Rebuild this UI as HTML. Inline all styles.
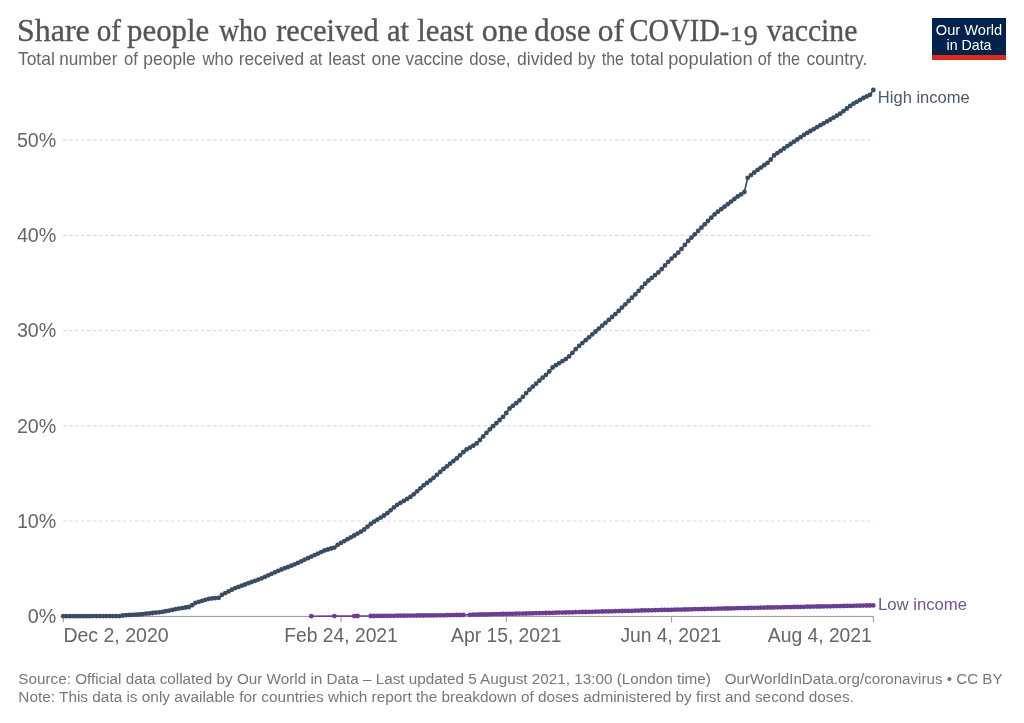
<!DOCTYPE html>
<html lang="en"><head><meta charset="utf-8"><title>Share of people who received at least one dose of COVID-19 vaccine</title>
<style>
html,body{margin:0;padding:0;background:#fff;}
body{width:1024px;height:723px;overflow:hidden;}
svg{display:block;font-family:"Liberation Sans",Arial,Helvetica,sans-serif;}
.title{font-family:"Liberation Serif",Georgia,serif;font-size:30.7px;fill:#555;stroke:#555;stroke-width:0.35px;}
.sub{font-size:17.9px;fill:#666;}
.axis text{font-size:19.3px;fill:#666;}
.axis text.y{font-size:19.7px;}
.foot{font-size:15.2px;fill:#777;}
.lbl{font-size:16.2px;}
.logo text{font-size:14.2px;fill:#fff;text-anchor:middle;}
</style></head>
<body>
<svg width="1024" height="723" viewBox="0 0 1024 723">
<rect width="1024" height="723" fill="#fff"/>
<text class="title"><tspan x="16.92" y="40.7" textLength="72.83" lengthAdjust="spacingAndGlyphs">Share</tspan> <tspan x="96.65" y="40.7" textLength="24.31" lengthAdjust="spacingAndGlyphs">of</tspan> <tspan x="127.10" y="40.7" textLength="82.22" lengthAdjust="spacingAndGlyphs">people</tspan> <tspan x="218.90" y="40.7" textLength="48.01" lengthAdjust="spacingAndGlyphs">who</tspan> <tspan x="276.30" y="40.7" textLength="102.34" lengthAdjust="spacingAndGlyphs">received</tspan> <tspan x="387.00" y="40.7" textLength="22.13" lengthAdjust="spacingAndGlyphs">at</tspan> <tspan x="417.20" y="40.7" textLength="56.42" lengthAdjust="spacingAndGlyphs">least</tspan> <tspan x="481.66" y="40.7" textLength="46.19" lengthAdjust="spacingAndGlyphs">one</tspan> <tspan x="534.30" y="40.7" textLength="56.22" lengthAdjust="spacingAndGlyphs">dose</tspan> <tspan x="597.78" y="40.7" textLength="26.12" lengthAdjust="spacingAndGlyphs">of</tspan> <tspan x="629.57" y="40.7" textLength="99.73" lengthAdjust="spacingAndGlyphs">COVID-</tspan><tspan x="730.31" y="40.7" font-size="22" textLength="11.98" lengthAdjust="spacingAndGlyphs">1</tspan><tspan x="743.80" y="45.1" font-size="29.6" textLength="13.95" lengthAdjust="spacingAndGlyphs">9</tspan> <tspan x="766.70" y="40.7" textLength="90.70" lengthAdjust="spacingAndGlyphs">vaccine</tspan></text>
<text class="sub"><tspan x="17.90" y="64.7" textLength="36.95" lengthAdjust="spacingAndGlyphs">Total</tspan> <tspan x="59.24" y="64.7" textLength="58.12" lengthAdjust="spacingAndGlyphs">number</tspan> <tspan x="123.90" y="64.7" textLength="13.87" lengthAdjust="spacingAndGlyphs">of</tspan> <tspan x="143.32" y="64.7" textLength="52.43" lengthAdjust="spacingAndGlyphs">people</tspan> <tspan x="202.54" y="64.7" textLength="30.72" lengthAdjust="spacingAndGlyphs">who</tspan> <tspan x="238.73" y="64.7" textLength="65.28" lengthAdjust="spacingAndGlyphs">received</tspan> <tspan x="309.60" y="64.7" textLength="12.77" lengthAdjust="spacingAndGlyphs">at</tspan> <tspan x="328.33" y="64.7" textLength="36.64" lengthAdjust="spacingAndGlyphs">least</tspan> <tspan x="371.40" y="64.7" textLength="29.45" lengthAdjust="spacingAndGlyphs">one</tspan> <tspan x="405.40" y="64.7" textLength="57.95" lengthAdjust="spacingAndGlyphs">vaccine</tspan> <tspan x="469.20" y="64.7" textLength="41.32" lengthAdjust="spacingAndGlyphs">dose,</tspan> <tspan x="517.10" y="64.7" textLength="55.73" lengthAdjust="spacingAndGlyphs">divided</tspan> <tspan x="577.76" y="64.7" textLength="17.68" lengthAdjust="spacingAndGlyphs">by</tspan> <tspan x="601.70" y="64.7" textLength="22.26" lengthAdjust="spacingAndGlyphs">the</tspan> <tspan x="630.50" y="64.7" textLength="33.16" lengthAdjust="spacingAndGlyphs">total</tspan> <tspan x="668.18" y="64.7" textLength="84.39" lengthAdjust="spacingAndGlyphs">population</tspan> <tspan x="757.70" y="64.7" textLength="13.67" lengthAdjust="spacingAndGlyphs">of</tspan> <tspan x="777.50" y="64.7" textLength="22.65" lengthAdjust="spacingAndGlyphs">the</tspan> <tspan x="806.40" y="64.7" textLength="60.95" lengthAdjust="spacingAndGlyphs">country.</tspan></text>
<g class="logo">
<rect x="932" y="18" width="74" height="42" fill="#00224b"/>
<rect x="932" y="55" width="74" height="5" fill="#dc2a1b"/>
<text x="969" y="34.5" textLength="66.4" lengthAdjust="spacingAndGlyphs">Our World</text>
<text x="969" y="50">in Data</text>
</g>
<g class="grid">
<line x1="63" x2="873.5" y1="521.0" y2="521.0" stroke="#ddd" stroke-width="1.2" stroke-dasharray="3.6,2.4"/>
<line x1="63" x2="873.5" y1="425.8" y2="425.8" stroke="#ddd" stroke-width="1.2" stroke-dasharray="3.6,2.4"/>
<line x1="63" x2="873.5" y1="330.6" y2="330.6" stroke="#ddd" stroke-width="1.2" stroke-dasharray="3.6,2.4"/>
<line x1="63" x2="873.5" y1="235.3" y2="235.3" stroke="#ddd" stroke-width="1.2" stroke-dasharray="3.6,2.4"/>
<line x1="63" x2="873.5" y1="140.1" y2="140.1" stroke="#ddd" stroke-width="1.2" stroke-dasharray="3.6,2.4"/>
</g>
<line x1="63" x2="873.8" y1="616.4" y2="616.4" stroke="#999" stroke-width="1"/>
<line x1="63.3" x2="63.3" y1="616.2" y2="622.3" stroke="#999" stroke-width="1"/>
<line x1="341.0" x2="341.0" y1="616.2" y2="622.3" stroke="#999" stroke-width="1"/>
<line x1="506.3" x2="506.3" y1="616.2" y2="622.3" stroke="#999" stroke-width="1"/>
<line x1="671.6" x2="671.6" y1="616.2" y2="622.3" stroke="#999" stroke-width="1"/>
<line x1="873.3" x2="873.3" y1="616.2" y2="622.3" stroke="#999" stroke-width="1"/>

<g class="axis">
<text class="y" x="56.3" y="623.0" text-anchor="end">0%</text>
<text class="y" x="56.3" y="527.8" text-anchor="end">10%</text>
<text class="y" x="56.3" y="432.6" text-anchor="end">20%</text>
<text class="y" x="56.3" y="337.4" text-anchor="end">30%</text>
<text class="y" x="56.3" y="242.1" text-anchor="end">40%</text>
<text class="y" x="56.3" y="146.9" text-anchor="end">50%</text>
<text x="63.4" y="641.6" textLength="105.2" lengthAdjust="spacingAndGlyphs">Dec 2, 2020</text>
<text x="341.0" y="641.6" text-anchor="middle">Feb 24, 2021</text>
<text x="506.3" y="641.6" text-anchor="middle">Apr 15, 2021</text>
<text x="670.8" y="641.6" text-anchor="middle">Jun 4, 2021</text>
<text x="871.8" y="641.6" text-anchor="end">Aug 4, 2021</text>
</g>
<path d="M311.3,616.2 L334.4,616.1 L354.2,616.1 L357.5,616.0 L370.8,616.0 L374.1,616.0 L377.4,615.9 L380.7,615.9 L384.0,615.9 L387.3,615.8 L390.6,615.8 L393.9,615.8 L397.2,615.7 L400.5,615.7 L403.8,615.7 L407.1,615.6 L410.4,615.6 L413.7,615.6 L417.1,615.5 L420.4,615.5 L423.7,615.5 L427.0,615.4 L430.3,615.4 L433.6,615.4 L436.9,615.3 L440.2,615.3 L443.5,615.3 L446.8,615.2 L450.1,615.2 L453.4,615.1 L456.7,615.0 L460.0,615.0 L463.3,614.9 L470.0,614.8 L473.3,614.7 L476.6,614.6 L479.9,614.5 L483.2,614.5 L486.5,614.4 L489.8,614.3 L493.1,614.2 L496.4,614.2 L499.7,614.1 L503.0,614.0 L506.3,613.9 L509.6,613.9 L512.9,613.8 L516.2,613.7 L519.5,613.6 L522.9,613.6 L526.2,613.5 L529.5,613.4 L532.8,613.3 L536.1,613.2 L539.4,613.2 L542.7,613.1 L546.0,613.0 L549.3,612.9 L552.6,612.8 L555.9,612.7 L559.2,612.6 L562.5,612.6 L565.8,612.5 L569.1,612.4 L572.4,612.3 L575.7,612.2 L579.1,612.1 L582.4,612.0 L585.7,612.0 L589.0,611.9 L592.3,611.8 L595.6,611.7 L598.9,611.6 L602.2,611.5 L605.5,611.4 L608.8,611.4 L612.1,611.3 L615.4,611.2 L618.7,611.1 L622.0,611.0 L625.3,610.9 L628.6,610.9 L632.0,610.8 L635.3,610.7 L638.6,610.6 L641.9,610.5 L645.2,610.4 L648.5,610.3 L651.8,610.3 L655.1,610.2 L658.4,610.1 L661.7,610.0 L665.0,609.9 L668.3,609.9 L671.6,609.8 L674.9,609.7 L678.2,609.6 L681.5,609.6 L684.9,609.5 L688.2,609.4 L691.5,609.3 L694.8,609.2 L698.1,609.2 L701.4,609.1 L704.7,609.0 L708.0,608.9 L711.3,608.9 L714.6,608.8 L717.9,608.7 L721.2,608.6 L724.5,608.5 L727.8,608.5 L731.1,608.4 L734.4,608.3 L737.7,608.2 L741.1,608.1 L744.4,608.1 L747.7,608.0 L751.0,607.9 L754.3,607.8 L757.6,607.8 L760.9,607.7 L764.2,607.6 L767.5,607.5 L770.8,607.5 L774.1,607.4 L777.4,607.3 L780.7,607.3 L784.0,607.2 L787.3,607.1 L790.6,607.1 L794.0,607.0 L797.3,606.9 L800.6,606.9 L803.9,606.8 L807.2,606.7 L810.5,606.7 L813.8,606.6 L817.1,606.5 L820.4,606.5 L823.7,606.4 L827.0,606.3 L830.3,606.3 L833.6,606.2 L836.9,606.1 L840.2,606.1 L843.5,606.0 L846.9,605.9 L850.2,605.9 L853.5,605.8 L856.8,605.7 L860.1,605.7 L863.4,605.6 L866.7,605.5 L870.0,605.5 L873.3,605.4" fill="none" stroke="#6b3d91" stroke-width="1.6" stroke-linejoin="round"/>
<g fill="#6b3d91"><circle cx="311.3" cy="616.2" r="2.4"/><circle cx="334.4" cy="616.1" r="2.4"/><circle cx="354.2" cy="616.1" r="2.4"/><circle cx="357.5" cy="616.0" r="2.4"/><circle cx="370.8" cy="616.0" r="2.4"/><circle cx="374.1" cy="616.0" r="2.4"/><circle cx="377.4" cy="615.9" r="2.4"/><circle cx="380.7" cy="615.9" r="2.4"/><circle cx="384.0" cy="615.9" r="2.4"/><circle cx="387.3" cy="615.8" r="2.4"/><circle cx="390.6" cy="615.8" r="2.4"/><circle cx="393.9" cy="615.8" r="2.4"/><circle cx="397.2" cy="615.7" r="2.4"/><circle cx="400.5" cy="615.7" r="2.4"/><circle cx="403.8" cy="615.7" r="2.4"/><circle cx="407.1" cy="615.6" r="2.4"/><circle cx="410.4" cy="615.6" r="2.4"/><circle cx="413.7" cy="615.6" r="2.4"/><circle cx="417.1" cy="615.5" r="2.4"/><circle cx="420.4" cy="615.5" r="2.4"/><circle cx="423.7" cy="615.5" r="2.4"/><circle cx="427.0" cy="615.4" r="2.4"/><circle cx="430.3" cy="615.4" r="2.4"/><circle cx="433.6" cy="615.4" r="2.4"/><circle cx="436.9" cy="615.3" r="2.4"/><circle cx="440.2" cy="615.3" r="2.4"/><circle cx="443.5" cy="615.3" r="2.4"/><circle cx="446.8" cy="615.2" r="2.4"/><circle cx="450.1" cy="615.2" r="2.4"/><circle cx="453.4" cy="615.1" r="2.4"/><circle cx="456.7" cy="615.0" r="2.4"/><circle cx="460.0" cy="615.0" r="2.4"/><circle cx="463.3" cy="614.9" r="2.4"/><circle cx="470.0" cy="614.8" r="2.4"/><circle cx="473.3" cy="614.7" r="2.4"/><circle cx="476.6" cy="614.6" r="2.4"/><circle cx="479.9" cy="614.5" r="2.4"/><circle cx="483.2" cy="614.5" r="2.4"/><circle cx="486.5" cy="614.4" r="2.4"/><circle cx="489.8" cy="614.3" r="2.4"/><circle cx="493.1" cy="614.2" r="2.4"/><circle cx="496.4" cy="614.2" r="2.4"/><circle cx="499.7" cy="614.1" r="2.4"/><circle cx="503.0" cy="614.0" r="2.4"/><circle cx="506.3" cy="613.9" r="2.4"/><circle cx="509.6" cy="613.9" r="2.4"/><circle cx="512.9" cy="613.8" r="2.4"/><circle cx="516.2" cy="613.7" r="2.4"/><circle cx="519.5" cy="613.6" r="2.4"/><circle cx="522.9" cy="613.6" r="2.4"/><circle cx="526.2" cy="613.5" r="2.4"/><circle cx="529.5" cy="613.4" r="2.4"/><circle cx="532.8" cy="613.3" r="2.4"/><circle cx="536.1" cy="613.2" r="2.4"/><circle cx="539.4" cy="613.2" r="2.4"/><circle cx="542.7" cy="613.1" r="2.4"/><circle cx="546.0" cy="613.0" r="2.4"/><circle cx="549.3" cy="612.9" r="2.4"/><circle cx="552.6" cy="612.8" r="2.4"/><circle cx="555.9" cy="612.7" r="2.4"/><circle cx="559.2" cy="612.6" r="2.4"/><circle cx="562.5" cy="612.6" r="2.4"/><circle cx="565.8" cy="612.5" r="2.4"/><circle cx="569.1" cy="612.4" r="2.4"/><circle cx="572.4" cy="612.3" r="2.4"/><circle cx="575.7" cy="612.2" r="2.4"/><circle cx="579.1" cy="612.1" r="2.4"/><circle cx="582.4" cy="612.0" r="2.4"/><circle cx="585.7" cy="612.0" r="2.4"/><circle cx="589.0" cy="611.9" r="2.4"/><circle cx="592.3" cy="611.8" r="2.4"/><circle cx="595.6" cy="611.7" r="2.4"/><circle cx="598.9" cy="611.6" r="2.4"/><circle cx="602.2" cy="611.5" r="2.4"/><circle cx="605.5" cy="611.4" r="2.4"/><circle cx="608.8" cy="611.4" r="2.4"/><circle cx="612.1" cy="611.3" r="2.4"/><circle cx="615.4" cy="611.2" r="2.4"/><circle cx="618.7" cy="611.1" r="2.4"/><circle cx="622.0" cy="611.0" r="2.4"/><circle cx="625.3" cy="610.9" r="2.4"/><circle cx="628.6" cy="610.9" r="2.4"/><circle cx="632.0" cy="610.8" r="2.4"/><circle cx="635.3" cy="610.7" r="2.4"/><circle cx="638.6" cy="610.6" r="2.4"/><circle cx="641.9" cy="610.5" r="2.4"/><circle cx="645.2" cy="610.4" r="2.4"/><circle cx="648.5" cy="610.3" r="2.4"/><circle cx="651.8" cy="610.3" r="2.4"/><circle cx="655.1" cy="610.2" r="2.4"/><circle cx="658.4" cy="610.1" r="2.4"/><circle cx="661.7" cy="610.0" r="2.4"/><circle cx="665.0" cy="609.9" r="2.4"/><circle cx="668.3" cy="609.9" r="2.4"/><circle cx="671.6" cy="609.8" r="2.4"/><circle cx="674.9" cy="609.7" r="2.4"/><circle cx="678.2" cy="609.6" r="2.4"/><circle cx="681.5" cy="609.6" r="2.4"/><circle cx="684.9" cy="609.5" r="2.4"/><circle cx="688.2" cy="609.4" r="2.4"/><circle cx="691.5" cy="609.3" r="2.4"/><circle cx="694.8" cy="609.2" r="2.4"/><circle cx="698.1" cy="609.2" r="2.4"/><circle cx="701.4" cy="609.1" r="2.4"/><circle cx="704.7" cy="609.0" r="2.4"/><circle cx="708.0" cy="608.9" r="2.4"/><circle cx="711.3" cy="608.9" r="2.4"/><circle cx="714.6" cy="608.8" r="2.4"/><circle cx="717.9" cy="608.7" r="2.4"/><circle cx="721.2" cy="608.6" r="2.4"/><circle cx="724.5" cy="608.5" r="2.4"/><circle cx="727.8" cy="608.5" r="2.4"/><circle cx="731.1" cy="608.4" r="2.4"/><circle cx="734.4" cy="608.3" r="2.4"/><circle cx="737.7" cy="608.2" r="2.4"/><circle cx="741.1" cy="608.1" r="2.4"/><circle cx="744.4" cy="608.1" r="2.4"/><circle cx="747.7" cy="608.0" r="2.4"/><circle cx="751.0" cy="607.9" r="2.4"/><circle cx="754.3" cy="607.8" r="2.4"/><circle cx="757.6" cy="607.8" r="2.4"/><circle cx="760.9" cy="607.7" r="2.4"/><circle cx="764.2" cy="607.6" r="2.4"/><circle cx="767.5" cy="607.5" r="2.4"/><circle cx="770.8" cy="607.5" r="2.4"/><circle cx="774.1" cy="607.4" r="2.4"/><circle cx="777.4" cy="607.3" r="2.4"/><circle cx="780.7" cy="607.3" r="2.4"/><circle cx="784.0" cy="607.2" r="2.4"/><circle cx="787.3" cy="607.1" r="2.4"/><circle cx="790.6" cy="607.1" r="2.4"/><circle cx="794.0" cy="607.0" r="2.4"/><circle cx="797.3" cy="606.9" r="2.4"/><circle cx="800.6" cy="606.9" r="2.4"/><circle cx="803.9" cy="606.8" r="2.4"/><circle cx="807.2" cy="606.7" r="2.4"/><circle cx="810.5" cy="606.7" r="2.4"/><circle cx="813.8" cy="606.6" r="2.4"/><circle cx="817.1" cy="606.5" r="2.4"/><circle cx="820.4" cy="606.5" r="2.4"/><circle cx="823.7" cy="606.4" r="2.4"/><circle cx="827.0" cy="606.3" r="2.4"/><circle cx="830.3" cy="606.3" r="2.4"/><circle cx="833.6" cy="606.2" r="2.4"/><circle cx="836.9" cy="606.1" r="2.4"/><circle cx="840.2" cy="606.1" r="2.4"/><circle cx="843.5" cy="606.0" r="2.4"/><circle cx="846.9" cy="605.9" r="2.4"/><circle cx="850.2" cy="605.9" r="2.4"/><circle cx="853.5" cy="605.8" r="2.4"/><circle cx="856.8" cy="605.7" r="2.4"/><circle cx="860.1" cy="605.7" r="2.4"/><circle cx="863.4" cy="605.6" r="2.4"/><circle cx="866.7" cy="605.5" r="2.4"/><circle cx="870.0" cy="605.5" r="2.4"/><circle cx="873.3" cy="605.4" r="2.4"/></g>

<path d="M63.3,616.2 L66.6,616.2 L69.9,616.2 L73.2,616.2 L76.5,616.2 L79.8,616.2 L83.1,616.2 L86.4,616.2 L89.7,616.2 L93.1,616.1 L96.4,616.1 L99.7,616.1 L103.0,616.1 L106.3,616.1 L109.6,616.1 L112.9,616.1 L116.2,616.1 L119.5,616.1 L122.8,615.5 L126.1,615.2 L129.4,615.0 L132.7,614.8 L136.0,614.7 L139.3,614.5 L142.6,614.1 L146.0,613.7 L149.3,613.4 L152.6,613.0 L155.9,612.6 L159.2,612.3 L162.5,611.9 L165.8,611.2 L169.1,610.6 L172.4,609.9 L175.7,609.2 L179.0,608.6 L182.3,608.1 L185.6,607.5 L188.9,607.0 L192.2,605.2 L195.5,602.8 L198.9,601.8 L202.2,600.8 L205.5,599.8 L208.8,598.8 L212.1,598.4 L215.4,598.1 L218.7,597.8 L222.0,594.8 L225.3,593.1 L228.6,591.4 L231.9,589.7 L235.2,588.1 L238.5,586.9 L241.8,585.7 L245.1,584.5 L248.4,583.2 L251.7,582.0 L255.1,580.8 L258.4,579.6 L261.7,578.3 L265.0,576.8 L268.3,575.3 L271.6,573.8 L274.9,572.3 L278.2,570.8 L281.5,569.5 L284.8,568.2 L288.1,567.0 L291.4,565.7 L294.7,564.3 L298.0,562.8 L301.3,561.3 L304.6,559.7 L308.0,558.2 L311.3,556.6 L314.6,555.1 L317.9,553.6 L321.2,552.1 L324.5,550.5 L327.8,549.5 L331.1,548.5 L334.4,547.6 L337.7,544.8 L341.0,542.9 L344.3,541.1 L347.6,539.2 L350.9,537.3 L354.2,535.5 L357.5,533.6 L360.9,531.7 L364.2,529.5 L367.5,526.7 L370.8,523.9 L374.1,521.7 L377.4,519.6 L380.7,517.6 L384.0,515.5 L387.3,513.2 L390.6,510.3 L393.9,507.4 L397.2,504.8 L400.5,502.8 L403.8,500.9 L407.1,498.9 L410.4,496.9 L413.7,494.3 L417.1,491.3 L420.4,488.3 L423.7,485.3 L427.0,482.9 L430.3,480.4 L433.6,477.8 L436.9,474.8 L440.2,471.9 L443.5,469.0 L446.8,466.4 L450.1,463.7 L453.4,461.1 L456.7,458.4 L460.0,455.3 L463.3,452.2 L466.6,449.4 L470.0,447.6 L473.3,445.7 L476.6,443.4 L479.9,440.0 L483.2,436.4 L486.5,432.8 L489.8,429.3 L493.1,426.2 L496.4,423.1 L499.7,420.0 L503.0,416.9 L506.3,413.0 L509.6,408.5 L512.9,405.8 L516.2,403.2 L519.5,400.4 L522.9,396.8 L526.2,393.1 L529.5,389.6 L532.8,386.6 L536.1,383.7 L539.4,380.7 L542.7,377.7 L546.0,374.8 L549.3,371.5 L552.6,367.5 L555.9,365.2 L559.2,363.1 L562.5,361.1 L565.8,359.1 L569.1,356.4 L572.4,352.8 L575.7,349.2 L579.1,345.9 L582.4,343.1 L585.7,340.2 L589.0,337.3 L592.3,334.4 L595.6,331.5 L598.9,328.6 L602.2,325.7 L605.5,322.8 L608.8,319.9 L612.1,317.0 L615.4,314.1 L618.7,310.9 L622.0,307.6 L625.3,304.3 L628.6,301.0 L632.0,297.7 L635.3,294.4 L638.6,290.9 L641.9,287.3 L645.2,283.7 L648.5,280.5 L651.8,277.8 L655.1,275.1 L658.4,272.4 L661.7,269.1 L665.0,265.4 L668.3,261.8 L671.6,258.6 L674.9,255.7 L678.2,252.7 L681.5,248.9 L684.9,244.9 L688.2,240.9 L691.5,237.6 L694.8,234.3 L698.1,231.0 L701.4,227.7 L704.7,224.3 L708.0,221.0 L711.3,217.7 L714.6,214.4 L717.9,211.7 L721.2,209.2 L724.5,206.7 L727.8,204.2 L731.1,201.6 L734.4,199.0 L737.7,196.5 L741.1,194.4 L744.4,192.0 L747.7,177.8 L751.0,175.1 L754.3,172.5 L757.6,169.9 L760.9,167.6 L764.2,165.2 L767.5,162.9 L770.8,159.5 L774.1,155.4 L777.4,153.1 L780.7,150.8 L784.0,148.5 L787.3,146.2 L790.6,144.0 L794.0,141.7 L797.3,139.5 L800.6,137.2 L803.9,134.9 L807.2,132.9 L810.5,131.0 L813.8,129.1 L817.1,127.1 L820.4,125.2 L823.7,123.3 L827.0,121.4 L830.3,119.5 L833.6,117.6 L836.9,115.7 L840.2,113.7 L843.5,111.1 L846.9,108.5 L850.2,105.9 L853.5,103.7 L856.8,101.8 L860.1,99.9 L863.4,98.0 L866.7,96.4 L870.0,94.8 L873.3,90.0" fill="none" stroke="#3a4c61" stroke-width="1.6" stroke-linejoin="round"/>
<g fill="#3a4c61"><circle cx="63.3" cy="616.2" r="2.4"/><circle cx="66.6" cy="616.2" r="2.4"/><circle cx="69.9" cy="616.2" r="2.4"/><circle cx="73.2" cy="616.2" r="2.4"/><circle cx="76.5" cy="616.2" r="2.4"/><circle cx="79.8" cy="616.2" r="2.4"/><circle cx="83.1" cy="616.2" r="2.4"/><circle cx="86.4" cy="616.2" r="2.4"/><circle cx="89.7" cy="616.2" r="2.4"/><circle cx="93.1" cy="616.1" r="2.4"/><circle cx="96.4" cy="616.1" r="2.4"/><circle cx="99.7" cy="616.1" r="2.4"/><circle cx="103.0" cy="616.1" r="2.4"/><circle cx="106.3" cy="616.1" r="2.4"/><circle cx="109.6" cy="616.1" r="2.4"/><circle cx="112.9" cy="616.1" r="2.4"/><circle cx="116.2" cy="616.1" r="2.4"/><circle cx="119.5" cy="616.1" r="2.4"/><circle cx="122.8" cy="615.5" r="2.4"/><circle cx="126.1" cy="615.2" r="2.4"/><circle cx="129.4" cy="615.0" r="2.4"/><circle cx="132.7" cy="614.8" r="2.4"/><circle cx="136.0" cy="614.7" r="2.4"/><circle cx="139.3" cy="614.5" r="2.4"/><circle cx="142.6" cy="614.1" r="2.4"/><circle cx="146.0" cy="613.7" r="2.4"/><circle cx="149.3" cy="613.4" r="2.4"/><circle cx="152.6" cy="613.0" r="2.4"/><circle cx="155.9" cy="612.6" r="2.4"/><circle cx="159.2" cy="612.3" r="2.4"/><circle cx="162.5" cy="611.9" r="2.4"/><circle cx="165.8" cy="611.2" r="2.4"/><circle cx="169.1" cy="610.6" r="2.4"/><circle cx="172.4" cy="609.9" r="2.4"/><circle cx="175.7" cy="609.2" r="2.4"/><circle cx="179.0" cy="608.6" r="2.4"/><circle cx="182.3" cy="608.1" r="2.4"/><circle cx="185.6" cy="607.5" r="2.4"/><circle cx="188.9" cy="607.0" r="2.4"/><circle cx="192.2" cy="605.2" r="2.4"/><circle cx="195.5" cy="602.8" r="2.4"/><circle cx="198.9" cy="601.8" r="2.4"/><circle cx="202.2" cy="600.8" r="2.4"/><circle cx="205.5" cy="599.8" r="2.4"/><circle cx="208.8" cy="598.8" r="2.4"/><circle cx="212.1" cy="598.4" r="2.4"/><circle cx="215.4" cy="598.1" r="2.4"/><circle cx="218.7" cy="597.8" r="2.4"/><circle cx="222.0" cy="594.8" r="2.4"/><circle cx="225.3" cy="593.1" r="2.4"/><circle cx="228.6" cy="591.4" r="2.4"/><circle cx="231.9" cy="589.7" r="2.4"/><circle cx="235.2" cy="588.1" r="2.4"/><circle cx="238.5" cy="586.9" r="2.4"/><circle cx="241.8" cy="585.7" r="2.4"/><circle cx="245.1" cy="584.5" r="2.4"/><circle cx="248.4" cy="583.2" r="2.4"/><circle cx="251.7" cy="582.0" r="2.4"/><circle cx="255.1" cy="580.8" r="2.4"/><circle cx="258.4" cy="579.6" r="2.4"/><circle cx="261.7" cy="578.3" r="2.4"/><circle cx="265.0" cy="576.8" r="2.4"/><circle cx="268.3" cy="575.3" r="2.4"/><circle cx="271.6" cy="573.8" r="2.4"/><circle cx="274.9" cy="572.3" r="2.4"/><circle cx="278.2" cy="570.8" r="2.4"/><circle cx="281.5" cy="569.5" r="2.4"/><circle cx="284.8" cy="568.2" r="2.4"/><circle cx="288.1" cy="567.0" r="2.4"/><circle cx="291.4" cy="565.7" r="2.4"/><circle cx="294.7" cy="564.3" r="2.4"/><circle cx="298.0" cy="562.8" r="2.4"/><circle cx="301.3" cy="561.3" r="2.4"/><circle cx="304.6" cy="559.7" r="2.4"/><circle cx="308.0" cy="558.2" r="2.4"/><circle cx="311.3" cy="556.6" r="2.4"/><circle cx="314.6" cy="555.1" r="2.4"/><circle cx="317.9" cy="553.6" r="2.4"/><circle cx="321.2" cy="552.1" r="2.4"/><circle cx="324.5" cy="550.5" r="2.4"/><circle cx="327.8" cy="549.5" r="2.4"/><circle cx="331.1" cy="548.5" r="2.4"/><circle cx="334.4" cy="547.6" r="2.4"/><circle cx="337.7" cy="544.8" r="2.4"/><circle cx="341.0" cy="542.9" r="2.4"/><circle cx="344.3" cy="541.1" r="2.4"/><circle cx="347.6" cy="539.2" r="2.4"/><circle cx="350.9" cy="537.3" r="2.4"/><circle cx="354.2" cy="535.5" r="2.4"/><circle cx="357.5" cy="533.6" r="2.4"/><circle cx="360.9" cy="531.7" r="2.4"/><circle cx="364.2" cy="529.5" r="2.4"/><circle cx="367.5" cy="526.7" r="2.4"/><circle cx="370.8" cy="523.9" r="2.4"/><circle cx="374.1" cy="521.7" r="2.4"/><circle cx="377.4" cy="519.6" r="2.4"/><circle cx="380.7" cy="517.6" r="2.4"/><circle cx="384.0" cy="515.5" r="2.4"/><circle cx="387.3" cy="513.2" r="2.4"/><circle cx="390.6" cy="510.3" r="2.4"/><circle cx="393.9" cy="507.4" r="2.4"/><circle cx="397.2" cy="504.8" r="2.4"/><circle cx="400.5" cy="502.8" r="2.4"/><circle cx="403.8" cy="500.9" r="2.4"/><circle cx="407.1" cy="498.9" r="2.4"/><circle cx="410.4" cy="496.9" r="2.4"/><circle cx="413.7" cy="494.3" r="2.4"/><circle cx="417.1" cy="491.3" r="2.4"/><circle cx="420.4" cy="488.3" r="2.4"/><circle cx="423.7" cy="485.3" r="2.4"/><circle cx="427.0" cy="482.9" r="2.4"/><circle cx="430.3" cy="480.4" r="2.4"/><circle cx="433.6" cy="477.8" r="2.4"/><circle cx="436.9" cy="474.8" r="2.4"/><circle cx="440.2" cy="471.9" r="2.4"/><circle cx="443.5" cy="469.0" r="2.4"/><circle cx="446.8" cy="466.4" r="2.4"/><circle cx="450.1" cy="463.7" r="2.4"/><circle cx="453.4" cy="461.1" r="2.4"/><circle cx="456.7" cy="458.4" r="2.4"/><circle cx="460.0" cy="455.3" r="2.4"/><circle cx="463.3" cy="452.2" r="2.4"/><circle cx="466.6" cy="449.4" r="2.4"/><circle cx="470.0" cy="447.6" r="2.4"/><circle cx="473.3" cy="445.7" r="2.4"/><circle cx="476.6" cy="443.4" r="2.4"/><circle cx="479.9" cy="440.0" r="2.4"/><circle cx="483.2" cy="436.4" r="2.4"/><circle cx="486.5" cy="432.8" r="2.4"/><circle cx="489.8" cy="429.3" r="2.4"/><circle cx="493.1" cy="426.2" r="2.4"/><circle cx="496.4" cy="423.1" r="2.4"/><circle cx="499.7" cy="420.0" r="2.4"/><circle cx="503.0" cy="416.9" r="2.4"/><circle cx="506.3" cy="413.0" r="2.4"/><circle cx="509.6" cy="408.5" r="2.4"/><circle cx="512.9" cy="405.8" r="2.4"/><circle cx="516.2" cy="403.2" r="2.4"/><circle cx="519.5" cy="400.4" r="2.4"/><circle cx="522.9" cy="396.8" r="2.4"/><circle cx="526.2" cy="393.1" r="2.4"/><circle cx="529.5" cy="389.6" r="2.4"/><circle cx="532.8" cy="386.6" r="2.4"/><circle cx="536.1" cy="383.7" r="2.4"/><circle cx="539.4" cy="380.7" r="2.4"/><circle cx="542.7" cy="377.7" r="2.4"/><circle cx="546.0" cy="374.8" r="2.4"/><circle cx="549.3" cy="371.5" r="2.4"/><circle cx="552.6" cy="367.5" r="2.4"/><circle cx="555.9" cy="365.2" r="2.4"/><circle cx="559.2" cy="363.1" r="2.4"/><circle cx="562.5" cy="361.1" r="2.4"/><circle cx="565.8" cy="359.1" r="2.4"/><circle cx="569.1" cy="356.4" r="2.4"/><circle cx="572.4" cy="352.8" r="2.4"/><circle cx="575.7" cy="349.2" r="2.4"/><circle cx="579.1" cy="345.9" r="2.4"/><circle cx="582.4" cy="343.1" r="2.4"/><circle cx="585.7" cy="340.2" r="2.4"/><circle cx="589.0" cy="337.3" r="2.4"/><circle cx="592.3" cy="334.4" r="2.4"/><circle cx="595.6" cy="331.5" r="2.4"/><circle cx="598.9" cy="328.6" r="2.4"/><circle cx="602.2" cy="325.7" r="2.4"/><circle cx="605.5" cy="322.8" r="2.4"/><circle cx="608.8" cy="319.9" r="2.4"/><circle cx="612.1" cy="317.0" r="2.4"/><circle cx="615.4" cy="314.1" r="2.4"/><circle cx="618.7" cy="310.9" r="2.4"/><circle cx="622.0" cy="307.6" r="2.4"/><circle cx="625.3" cy="304.3" r="2.4"/><circle cx="628.6" cy="301.0" r="2.4"/><circle cx="632.0" cy="297.7" r="2.4"/><circle cx="635.3" cy="294.4" r="2.4"/><circle cx="638.6" cy="290.9" r="2.4"/><circle cx="641.9" cy="287.3" r="2.4"/><circle cx="645.2" cy="283.7" r="2.4"/><circle cx="648.5" cy="280.5" r="2.4"/><circle cx="651.8" cy="277.8" r="2.4"/><circle cx="655.1" cy="275.1" r="2.4"/><circle cx="658.4" cy="272.4" r="2.4"/><circle cx="661.7" cy="269.1" r="2.4"/><circle cx="665.0" cy="265.4" r="2.4"/><circle cx="668.3" cy="261.8" r="2.4"/><circle cx="671.6" cy="258.6" r="2.4"/><circle cx="674.9" cy="255.7" r="2.4"/><circle cx="678.2" cy="252.7" r="2.4"/><circle cx="681.5" cy="248.9" r="2.4"/><circle cx="684.9" cy="244.9" r="2.4"/><circle cx="688.2" cy="240.9" r="2.4"/><circle cx="691.5" cy="237.6" r="2.4"/><circle cx="694.8" cy="234.3" r="2.4"/><circle cx="698.1" cy="231.0" r="2.4"/><circle cx="701.4" cy="227.7" r="2.4"/><circle cx="704.7" cy="224.3" r="2.4"/><circle cx="708.0" cy="221.0" r="2.4"/><circle cx="711.3" cy="217.7" r="2.4"/><circle cx="714.6" cy="214.4" r="2.4"/><circle cx="717.9" cy="211.7" r="2.4"/><circle cx="721.2" cy="209.2" r="2.4"/><circle cx="724.5" cy="206.7" r="2.4"/><circle cx="727.8" cy="204.2" r="2.4"/><circle cx="731.1" cy="201.6" r="2.4"/><circle cx="734.4" cy="199.0" r="2.4"/><circle cx="737.7" cy="196.5" r="2.4"/><circle cx="741.1" cy="194.4" r="2.4"/><circle cx="744.4" cy="192.0" r="2.4"/><circle cx="747.7" cy="177.8" r="2.4"/><circle cx="751.0" cy="175.1" r="2.4"/><circle cx="754.3" cy="172.5" r="2.4"/><circle cx="757.6" cy="169.9" r="2.4"/><circle cx="760.9" cy="167.6" r="2.4"/><circle cx="764.2" cy="165.2" r="2.4"/><circle cx="767.5" cy="162.9" r="2.4"/><circle cx="770.8" cy="159.5" r="2.4"/><circle cx="774.1" cy="155.4" r="2.4"/><circle cx="777.4" cy="153.1" r="2.4"/><circle cx="780.7" cy="150.8" r="2.4"/><circle cx="784.0" cy="148.5" r="2.4"/><circle cx="787.3" cy="146.2" r="2.4"/><circle cx="790.6" cy="144.0" r="2.4"/><circle cx="794.0" cy="141.7" r="2.4"/><circle cx="797.3" cy="139.5" r="2.4"/><circle cx="800.6" cy="137.2" r="2.4"/><circle cx="803.9" cy="134.9" r="2.4"/><circle cx="807.2" cy="132.9" r="2.4"/><circle cx="810.5" cy="131.0" r="2.4"/><circle cx="813.8" cy="129.1" r="2.4"/><circle cx="817.1" cy="127.1" r="2.4"/><circle cx="820.4" cy="125.2" r="2.4"/><circle cx="823.7" cy="123.3" r="2.4"/><circle cx="827.0" cy="121.4" r="2.4"/><circle cx="830.3" cy="119.5" r="2.4"/><circle cx="833.6" cy="117.6" r="2.4"/><circle cx="836.9" cy="115.7" r="2.4"/><circle cx="840.2" cy="113.7" r="2.4"/><circle cx="843.5" cy="111.1" r="2.4"/><circle cx="846.9" cy="108.5" r="2.4"/><circle cx="850.2" cy="105.9" r="2.4"/><circle cx="853.5" cy="103.7" r="2.4"/><circle cx="856.8" cy="101.8" r="2.4"/><circle cx="860.1" cy="99.9" r="2.4"/><circle cx="863.4" cy="98.0" r="2.4"/><circle cx="866.7" cy="96.4" r="2.4"/><circle cx="870.0" cy="94.8" r="2.4"/><circle cx="873.3" cy="90.0" r="2.4"/></g>

<text class="lbl" x="877.8" y="102.9" fill="#4a596b" textLength="92" lengthAdjust="spacingAndGlyphs">High income</text>
<text class="lbl" x="877.9" y="610.2" fill="#70578e" textLength="89.2" lengthAdjust="spacingAndGlyphs">Low income</text>
<g class="foot">
<text x="18.3" y="684.3" textLength="692.6" lengthAdjust="spacingAndGlyphs">Source: Official data collated by Our World in Data – Last updated 5 August 2021, 13:00 (London time)</text>
<text x="724.7" y="684.3" textLength="277.8" lengthAdjust="spacingAndGlyphs">OurWorldInData.org/coronavirus • CC BY</text>
<text x="18.3" y="702.1" textLength="835.7" lengthAdjust="spacingAndGlyphs">Note: This data is only available for countries which report the breakdown of doses administered by first and second doses.</text>
</g>
</svg>
</body></html>
